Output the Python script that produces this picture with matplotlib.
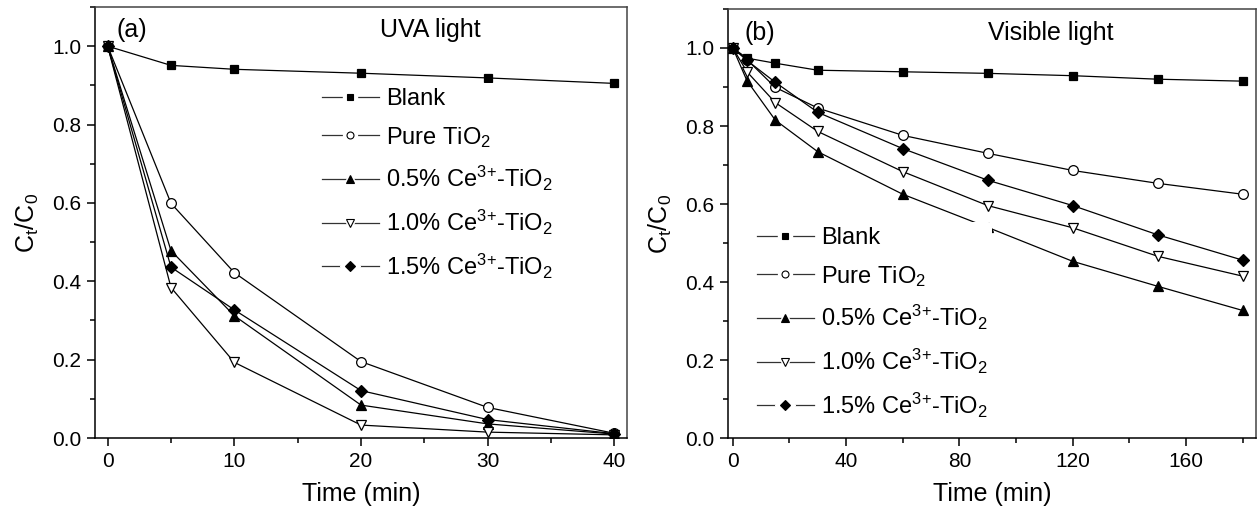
import matplotlib
matplotlib.use("Agg")
import matplotlib.pyplot as plt
from matplotlib.lines import Line2D
from matplotlib.legend_handler import HandlerTuple
from matplotlib.ticker import MultipleLocator

plt.rcParams['font.family'] = ['Liberation Sans', 'DejaVu Sans']
plt.rcParams['mathtext.fontset'] = 'custom'
plt.rcParams['mathtext.rm'] = 'Liberation Sans'
plt.rcParams['mathtext.it'] = 'Liberation Sans'
plt.rcParams['mathtext.bf'] = 'Liberation Sans:bold'
plt.rcParams['mathtext.default'] = 'regular'

# ---- data ----
labels = ['Blank', 'Pure TiO$_2$', '0.5% Ce$^{3{+}}$-TiO$_2$',
          '1.0% Ce$^{3{+}}$-TiO$_2$', '1.5% Ce$^{3{+}}$-TiO$_2$']

time_uva = [0, 5, 10, 20, 30, 40]
uva_blank = [1.0, 0.951, 0.941, 0.931, 0.919, 0.905]
uva_pure = [1.0, 0.599, 0.422, 0.195, 0.078, 0.012]
uva_05 = [1.0, 0.478, 0.312, 0.084, 0.036, 0.010]
uva_10 = [1.0, 0.384, 0.193, 0.033, 0.015, 0.008]
uva_15 = [1.0, 0.436, 0.327, 0.121, 0.047, 0.011]

time_vis = [0, 5, 15, 30, 60, 90, 120, 150, 180]
vis_blank = [1.0, 0.974, 0.961, 0.943, 0.939, 0.935, 0.929, 0.920, 0.915]
vis_pure = [1.0, 0.970, 0.899, 0.846, 0.776, 0.730, 0.686, 0.653, 0.625]
vis_05 = [1.0, 0.916, 0.815, 0.734, 0.625, 0.540, 0.453, 0.389, 0.327]
vis_10 = [1.0, 0.939, 0.860, 0.786, 0.683, 0.596, 0.539, 0.466, 0.415]
vis_15 = [1.0, 0.968, 0.912, 0.835, 0.742, 0.661, 0.596, 0.521, 0.456]

markers = ['s', 'o', '^', 'v', 'D']
faces = ['black', 'white', 'black', 'white', 'black']
msizes = [6.3, 7.0, 7.5, 7.5, 6.5]
legend_ms = [4.6, 5.0, 5.6, 5.6, 5.0]

fig = plt.figure(figsize=(12.58, 5.19), dpi=100)
ax_a = fig.add_axes([95/1258, 1-438/519, 532/1258, 431/519])
ax_b = fig.add_axes([728/1258, 1-438/519, 528/1258, 429/519])


def draw(ax, t, series):
    for y, m, fc, ms in zip(series, markers, faces, msizes):
        ax.plot(t, y, color='black', lw=0.9, marker=m, markersize=ms,
                markerfacecolor=fc, markeredgecolor='black', markeredgewidth=0.9,
                zorder=3)


def style(ax, xlim, xmaj, xmin):
    ax.set_xlim(*xlim)
    ax.set_ylim(0, 1.1)
    ax.xaxis.set_major_locator(MultipleLocator(xmaj))
    ax.xaxis.set_minor_locator(MultipleLocator(xmin))
    ax.yaxis.set_major_locator(MultipleLocator(0.2))
    ax.yaxis.set_minor_locator(MultipleLocator(0.1))
    ax.yaxis.set_major_formatter(matplotlib.ticker.FormatStrFormatter('%.1f'))
    ax.tick_params(which='major', direction='out', length=6, width=1.1,
                   labelsize=15, pad=4)
    ax.tick_params(which='minor', direction='out', length=3.5, width=1.1)
    ax.tick_params(top=False, right=False)
    for s in ax.spines.values():
        s.set_linewidth(1.1)
    ax.spines['top'].set_color('#444444')
    ax.spines['right'].set_color('#444444')
    ax.set_xlabel('Time (min)', fontsize=18, labelpad=8)
    ax.set_ylabel('C$_t$/C$_0$', fontsize=18, labelpad=8)


BORDERPAD = 0.2
PAD_PX = BORDERPAD * 17 * 100 / 72  # borderpad in pixels


def legend(ax, x_px, y_px, ax_left, ax_bottom, w, h):
    handles = []
    for m, fc, ms in zip(markers, faces, legend_ms):
        ln = Line2D([], [], color='#333333', lw=0.9)
        gap = Line2D([], [], ls='none', marker=m, markersize=ms + 5,
                     markerfacecolor='white', markeredgecolor='white')
        mk = Line2D([], [], ls='none', marker=m, markersize=ms,
                    markerfacecolor=fc, markeredgecolor='black', markeredgewidth=0.8)
        handles.append((ln, gap, mk))
    anchor = ((x_px - PAD_PX - ax_left) / w, (ax_bottom - (y_px - PAD_PX)) / h)
    lg = ax.legend(handles, labels, handler_map={tuple: HandlerTuple(ndivide=1, pad=0)},
                   loc='upper left', bbox_to_anchor=anchor, frameon=True,
                   framealpha=1, edgecolor='none', facecolor='white', fontsize=17,
                   handlelength=2.4, handletextpad=0.3, labelspacing=0.62,
                   borderpad=BORDERPAD, borderaxespad=0)
    lg.set_zorder(5)


draw(ax_a, time_uva, [uva_blank, uva_pure, uva_05, uva_10, uva_15])
style(ax_a, (-1, 41), 10, 5)
legend(ax_a, 322, 88, 95, 438, 532, 431)
ax_a.text(0.04, 0.947, '(a)', transform=ax_a.transAxes, fontsize=18, va='center', ha='left')
ax_a.text(0.536, 0.947, 'UVA light', transform=ax_a.transAxes, fontsize=18, va='center', ha='left')

draw(ax_b, time_vis, [vis_blank, vis_pure, vis_05, vis_10, vis_15])
style(ax_b, (-1.7, 184.7), 40, 20)
legend(ax_b, 757, 227, 728, 438, 528, 429)
ax_b.text(0.032, 0.944, '(b)', transform=ax_b.transAxes, fontsize=18, va='center', ha='left')
ax_b.text(0.492, 0.944, 'Visible light', transform=ax_b.transAxes, fontsize=18, va='center', ha='left')

fig.savefig('out.png', dpi=100)
